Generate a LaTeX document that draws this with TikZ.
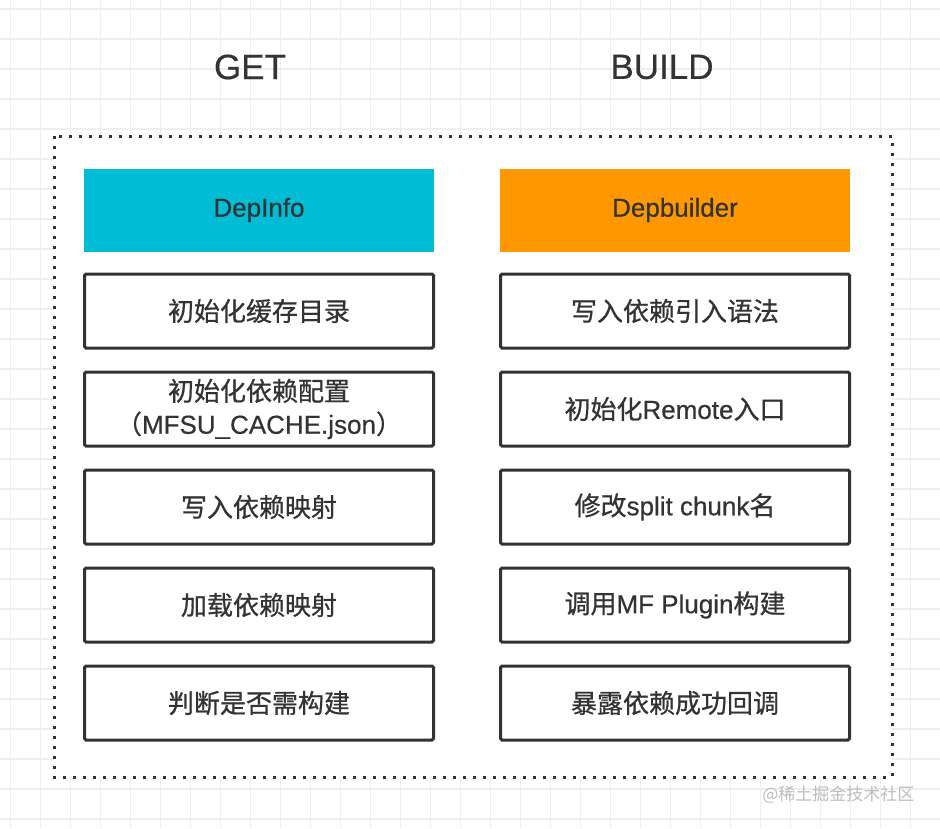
\documentclass[tikz,border=0pt]{standalone}
\usepackage{fontspec}
\setmainfont{Liberation Sans}[FakeBold=0.5]
\newfontfamily\cjk{Noto Sans CJK SC}[FakeBold=0.7]
\newfontfamily\cjklight{Noto Sans CJK SC}
\usetikzlibrary{positioning}
\definecolor{ink}{HTML}{333333}
\definecolor{gridline}{HTML}{EEEEEE}
\definecolor{infocyan}{HTML}{00BCD4}
\definecolor{buildorange}{HTML}{FF9800}
\definecolor{mark}{HTML}{BDBDBD}
\tikzset{every node/.style={font=\fontsize{26}{33}\selectfont,text=ink},
  title/.style={font=\fontsize{35}{40}\selectfont},
  head/.style={minimum width=350pt,minimum height=83pt,inner sep=0pt,outer sep=0pt},
  stepbox/.style={draw=ink,line width=3pt,rounded corners=1.5pt,fill=white,
    minimum width=349pt,minimum height=74pt,inner sep=0pt,outer sep=0pt,align=center},
  frame/.style={draw=ink,line width=3pt,dash pattern=on 3pt off 7pt},
  gridlines/.style={draw=gridline,line width=1.3pt}}
\begin{document}
\begin{tikzpicture}[x=1pt,y=-1pt]
\useasboundingbox[fill=white] (0,0) rectangle (940,828);
\foreach \i in {0,...,31}{\draw[gridlines] (10.5+30*\i,0)--(10.5+30*\i,828);}
\foreach \i in {0,...,27}{\draw[gridlines] (0,9+30*\i)--(940,9+30*\i);}
\fill[white] (54,136) rectangle (892,777);
\draw[frame] (54,136) rectangle (892,777);
\node[title] (get) at (250,67) {GET};
\node[title] (build) at (662,67) {BUILD};
\node[head,fill=infocyan] (info) at (259,210) {DepInfo};
\node[head,fill=buildorange] (builder) at (675,210) {Depbuilder};
% GET column
\node[stepbox,below=22.5pt of info] (g1) {\cjk 初始化缓存目录};
\node[stepbox,below=24pt of g1] (g2) {{\cjk 初始化依赖配置}\\{\cjk （}MFSU\_CACHE.json{\cjk ）}};
\node[stepbox,below=24pt of g2] (g3) {\cjk 写入依赖映射};
\node[stepbox,below=24pt of g3] (g4) {\cjk 加载依赖映射};
\node[stepbox,below=24pt of g4] (g5) {\cjk 判断是否需构建};
% BUILD column
\node[stepbox,below=22.5pt of builder] (b1) {\cjk 写入依赖引入语法};
\node[stepbox,below=24pt of b1] (b2) {{\cjk 初始化}Remote{\cjk 入口}};
\node[stepbox,below=24pt of b2] (b3) {{\cjk 修改}split chunk{\cjk 名}};
\node[stepbox,below=24pt of b3] (b4) {{\cjk 调用}MF Plugin{\cjk 构建}};
\node[stepbox,below=24pt of b4] (b5) {\cjk 暴露依赖成功回调};
\node[font=\cjklight\fontsize{17}{20}\selectfont,text=mark,anchor=east] (credit) at (918,795) {@稀土掘金技术社区};
\end{tikzpicture}
\end{document}
